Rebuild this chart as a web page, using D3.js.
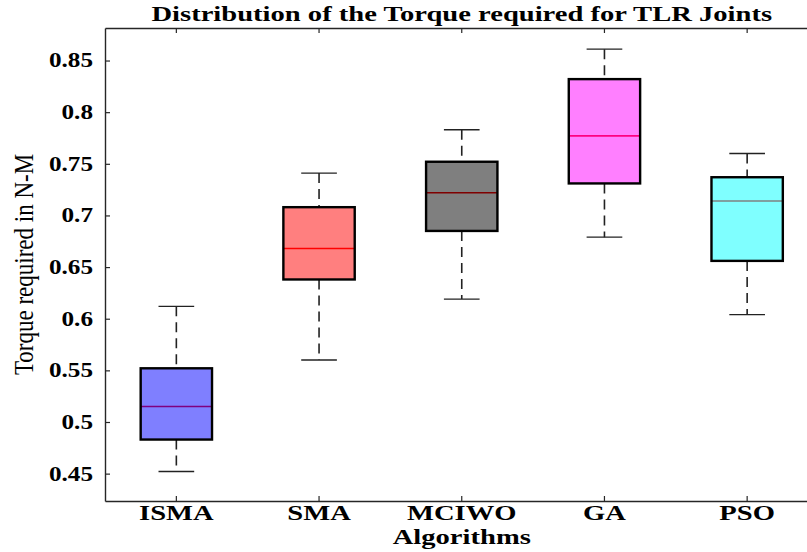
<!DOCTYPE html>
<html>
<head>
<meta charset="utf-8">
<script src="https://cdn.jsdelivr.net/npm/d3@7"></script>
<style>
  html, body { margin: 0; padding: 0; background: #fff; }
  svg { display: block; }
  text { font-family: "Liberation Serif", "Times New Roman", serif; fill: #000; }
</style>
</head>
<body>
<svg id="chart" width="807" height="552"></svg>
<script>
// Torque distribution per algorithm (box statistics, N-M)
const categories  = ["ISMA", "SMA", "MCIWO", "GA", "PSO"];
const whiskerLow  = [0.452, 0.560, 0.619, 0.679, 0.604];
const quartile1   = [0.483, 0.638, 0.685, 0.731, 0.656];
const medians     = [0.515, 0.668, 0.722, 0.777, 0.714];
const quartile3   = [0.552, 0.708, 0.752, 0.832, 0.737];
const whiskerHigh = [0.612, 0.741, 0.783, 0.861, 0.760];
const boxColors   = ["#0000ff", "#ff0000", "#000000", "#ff00ff", "#00ffff"];
const yTicks      = [0.45, 0.5, 0.55, 0.6, 0.65, 0.7, 0.75, 0.8, 0.85];
const yDomain     = [0.4235, 0.8815];

const SX = 1.43;            // horizontal text stretch of the figure
const SXY = 1.26;           // stretch for the y tick labels
const plotL = 105, plotR = 818.5, plotT = 28, plotB = 501;

const svg = d3.select("#chart");

const x = d3.scaleBand().domain(categories).range([plotL, plotR]).padding(0);
const y = d3.scaleLinear().domain(yDomain).range([plotB, plotT]);

const boxW = x.bandwidth() * 0.5;
const capW = x.bandwidth() * 0.25;

const rows = categories.map((c, i) => ({
  c, lo: whiskerLow[i], q1: quartile1[i], med: medians[i],
  q3: quartile3[i], hi: whiskerHigh[i], color: boxColors[i]
}));

const g = svg.append("g");
const cx = d => x(d.c) + x.bandwidth() / 2;

// dashed whiskers
g.selectAll("line.wu").data(rows).join("line")
  .attr("x1", cx).attr("x2", cx)
  .attr("y1", d => y(d.hi)).attr("y2", d => y(d.q3))
  .attr("stroke", "#222").attr("stroke-width", 1.6).attr("stroke-dasharray", "10,6");
g.selectAll("line.wl").data(rows).join("line")
  .attr("x1", cx).attr("x2", cx)
  .attr("y1", d => y(d.q1)).attr("y2", d => y(d.lo))
  .attr("stroke", "#222").attr("stroke-width", 1.6).attr("stroke-dasharray", "10,6");

// whisker caps
g.selectAll("line.ch").data(rows).join("line")
  .attr("x1", d => cx(d) - capW / 2).attr("x2", d => cx(d) + capW / 2)
  .attr("y1", d => y(d.hi)).attr("y2", d => y(d.hi))
  .attr("stroke", "#222").attr("stroke-width", 1.4);
g.selectAll("line.cl").data(rows).join("line")
  .attr("x1", d => cx(d) - capW / 2).attr("x2", d => cx(d) + capW / 2)
  .attr("y1", d => y(d.lo)).attr("y2", d => y(d.lo))
  .attr("stroke", "#222").attr("stroke-width", 1.4);

// median lines (red, seen through the translucent fill)
g.selectAll("line.med").data(rows).join("line")
  .attr("x1", d => cx(d) - boxW / 2).attr("x2", d => cx(d) + boxW / 2)
  .attr("y1", d => y(d.med)).attr("y2", d => y(d.med))
  .attr("stroke", "#ff0000").attr("stroke-width", 1.6);

// translucent box fills
g.selectAll("rect.fill").data(rows).join("rect")
  .attr("x", d => cx(d) - boxW / 2).attr("width", boxW)
  .attr("y", d => y(d.q3)).attr("height", d => y(d.q1) - y(d.q3))
  .attr("fill", d => d.color).attr("fill-opacity", 0.5);

// box outlines
g.selectAll("rect.edge").data(rows).join("rect")
  .attr("x", d => cx(d) - boxW / 2).attr("width", boxW)
  .attr("y", d => y(d.q3)).attr("height", d => y(d.q1) - y(d.q3))
  .attr("fill", "none").attr("stroke", "#000").attr("stroke-width", 2.4);

// axes
const axisColor = "#262626";
const yAxis = svg.append("g").attr("transform", `translate(${plotL},0)`)
  .call(d3.axisLeft(y).tickValues(yTicks).tickFormat(d3.format("")).tickSizeInner(-5).tickSizeOuter(0).tickPadding(12));
yAxis.selectAll("text")
  .attr("x", 0)
  .attr("transform", `translate(-12,0) scale(${SXY},1)`)
  .style("font-size", "20px").style("font-weight", "bold");

const xAxis = svg.append("g").attr("transform", `translate(0,${plotB})`)
  .call(d3.axisBottom(x).tickSizeInner(-5).tickSizeOuter(0).tickPadding(14));
xAxis.selectAll("text")
  .attr("y", 0).attr("dy", 0)
  .attr("transform", `translate(0,19) scale(${SX},1)`)
  .style("font-size", "20px").style("font-weight", "bold");

const xTop = svg.append("g").attr("transform", `translate(0,${plotT})`)
  .call(d3.axisTop(x).tickSizeInner(-5).tickSizeOuter(0).tickFormat(""));

const yRight = svg.append("g").attr("transform", `translate(${plotR},0)`)
  .call(d3.axisRight(y).tickValues(yTicks).tickSizeInner(-5).tickSizeOuter(0).tickFormat(""));

[yAxis, xAxis, xTop, yRight].forEach(a => {
  a.select(".domain").attr("stroke", axisColor).attr("stroke-width", 1.4);
  a.selectAll(".tick line").attr("stroke", axisColor).attr("stroke-width", 1.2);
});

// title and axis labels
svg.append("text")
  .attr("transform", `translate(${(plotL + plotR) / 2},21) scale(${SX},1)`)
  .attr("text-anchor", "middle")
  .style("font-size", "20px").style("font-weight", "bold")
  .text("Distribution of the Torque required for TLR Joints");

svg.append("text")
  .attr("transform", `translate(${(plotL + plotR) / 2},544) scale(${SX},1)`)
  .attr("text-anchor", "middle")
  .style("font-size", "20px").style("font-weight", "bold")
  .text("Algorithms");

svg.append("text")
  .attr("transform", `translate(33,${(plotT + plotB) / 2}) scale(1.2,1) rotate(-90)`)
  .attr("text-anchor", "middle")
  .style("font-size", "23px")
  .text("Torque required in N-M");
</script>
</body>
</html>
